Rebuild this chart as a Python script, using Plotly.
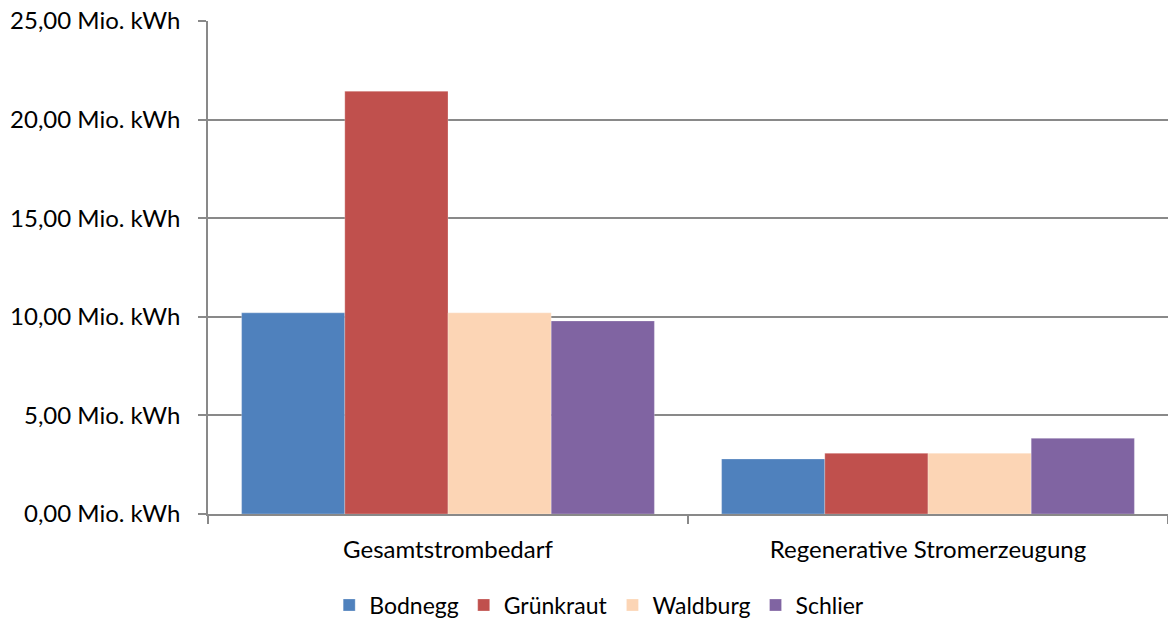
import plotly.graph_objects as go

categories = ["Gesamtstrombedarf", "Regenerative Stromerzeugung"]
series_names = ["Bodnegg", "Grünkraut", "Waldburg", "Schlier"]
bodnegg = [10.2, 2.79]
gruenkraut = [21.44, 3.08]
waldburg = [10.2, 3.08]
schlier = [9.79, 3.84]
y_tick_values = [0, 5, 10, 15, 20, 25]
y_tick_labels = ["0,00 Mio. kWh", "5,00 Mio. kWh", "10,00 Mio. kWh",
                 "15,00 Mio. kWh", "20,00 Mio. kWh", "25,00 Mio. kWh"]

colors = ["#4F81BD", "#C0504D", "#FCD5B5", "#8064A2"]
series_values = [bodnegg, gruenkraut, waldburg, schlier]

fig = go.Figure()
for name, vals, col in zip(series_names, series_values, colors):
    fig.add_trace(go.Bar(
        x=categories, y=vals, name=name,
        marker=dict(color=col, line=dict(color="rgba(255,255,255,0.5)", width=0.5)),
    ))

font_family = "Lato, 'Open Sans', sans-serif"
grid_col = "#898989"
fig.update_layout(
    width=1168, height=618,
    margin=dict(l=208, r=0, t=21, b=104),
    paper_bgcolor="white", plot_bgcolor="white",
    barmode="group", bargap=0.14, bargroupgap=0,
    font=dict(family=font_family, size=24, color="#000000"),
    showlegend=True,
    legend=dict(orientation="h", x=0.513, xref="container", xanchor="center",
                y=0.021, yref="container", yanchor="middle", font=dict(size=23),
                itemwidth=30, traceorder="normal", tracegroupgap=0),
    xaxis=dict(showline=True, linecolor=grid_col, linewidth=1.5,
               ticks="outside", ticklen=8, tickcolor=grid_col, tickwidth=1.5,
               tickson="boundaries", showgrid=False, ticklabelstandoff=13,
               automargin=False,
               tickfont=dict(size=24, family=font_family)),
    yaxis=dict(range=[0, 25], tickvals=y_tick_values, ticktext=y_tick_labels,
               showline=True, linecolor=grid_col, linewidth=1.5,
               showgrid=True, gridcolor=grid_col, gridwidth=1.5,
               ticks="outside", ticklen=8, tickcolor=grid_col, tickwidth=1.5,
               ticklabelstandoff=13, automargin=False,
               zeroline=False, tickfont=dict(size=24, family=font_family)),
)

fig.write_html("out.html", config={"displayModeBar": False},
               post_script="document.body.style.margin='0';document.body.style.overflow='hidden';")
